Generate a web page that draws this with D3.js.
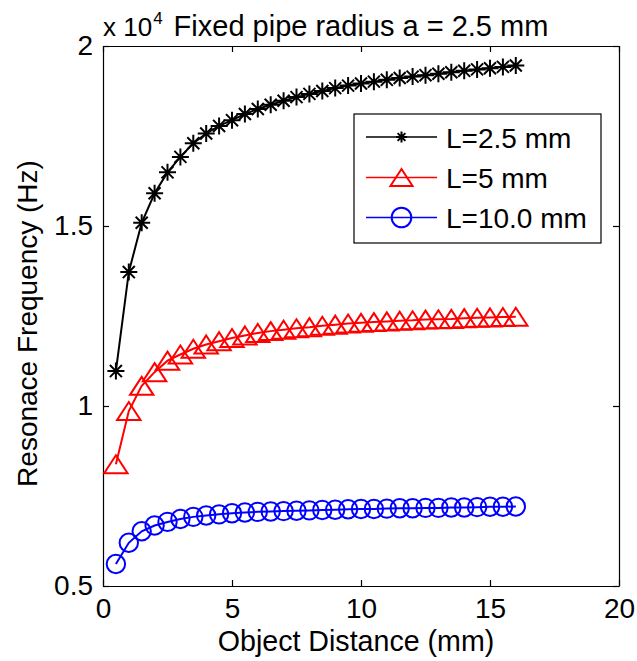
<!DOCTYPE html>
<html>
<head>
<meta charset="utf-8">
<script src="https://cdn.jsdelivr.net/npm/d3@7"></script>
<style>
  html, body { margin: 0; padding: 0; background: #fff; }
  svg { display: block; font-family: "Liberation Sans", Arial, Helvetica, sans-serif; }
</style>
</head>
<body>
<svg id="chart" width="637" height="661"></svg>
<script>
// Object distance in mm
const distance = [0.5, 1, 1.5, 2, 2.5, 3, 3.5, 4, 4.5, 5, 5.5, 6, 6.5, 7, 7.5, 8,
                  8.5, 9, 9.5, 10, 10.5, 11, 11.5, 12, 12.5, 13, 13.5, 14, 14.5, 15, 15.5, 16];

// Resonance frequency in units of 10^4 Hz, one array per pipe length
const freqL2_5 = [1.097, 1.372, 1.509, 1.591, 1.649, 1.692, 1.730, 1.757, 1.778, 1.794, 1.811, 1.825,
                  1.837, 1.848, 1.858, 1.867, 1.875, 1.883, 1.890, 1.896, 1.901, 1.906, 1.911, 1.915,
                  1.919, 1.923, 1.927, 1.931, 1.935, 1.938, 1.942, 1.946];
const freqL5   = [0.838, 0.986, 1.056, 1.094, 1.126, 1.143, 1.159, 1.171, 1.180, 1.189, 1.196, 1.203,
                  1.208, 1.212, 1.216, 1.219, 1.223, 1.226, 1.229, 1.231, 1.233, 1.235, 1.237, 1.238,
                  1.240, 1.241, 1.242, 1.244, 1.245, 1.246, 1.247, 1.248];
const freqL10  = [0.561, 0.620, 0.652, 0.668, 0.678, 0.686, 0.692, 0.696, 0.699, 0.702, 0.704, 0.706,
                  0.707, 0.708, 0.709, 0.710, 0.711, 0.712, 0.713, 0.714, 0.714, 0.715, 0.716, 0.716,
                  0.717, 0.717, 0.718, 0.718, 0.719, 0.720, 0.720, 0.721];

const seriesNames = ["L=2.5 mm", "L=5 mm", "L=10.0 mm"];
const seriesColors = ["#000000", "#ff0000", "#0000ff"];
const seriesMarkers = ["star", "triangle", "circle"];

const xTicks = [0, 5, 10, 15, 20];
const yTicks = [0.5, 1, 1.5, 2];

const titleText = "Fixed pipe radius a = 2.5 mm";
const xLabel = "Object Distance (mm)";
const yLabel = "Resonace Frequency (Hz)";

const series = [freqL2_5, freqL5, freqL10].map((vals, i) => ({
  name: seriesNames[i], color: seriesColors[i], marker: seriesMarkers[i],
  points: distance.map((d, j) => [d, vals[j]])
}));

const svg = d3.select("#chart");
const box = { left: 103, right: 619, top: 46, bottom: 586 };
const fontSize = 28;

const x = d3.scaleLinear().domain([0, 20]).range([box.left, box.right]);
const y = d3.scaleLinear().domain([0.5, 2]).range([box.bottom, box.top]);

// Marker shapes
function markerPath(type, s) {
  if (type === "star") {
    const d = s * 0.7071;
    return `M${-s},0L${s},0M0,${-s}L0,${s}M${-d},${-d}L${d},${d}M${-d},${d}L${d},${-d}`;
  }
  if (type === "triangle") {
    const w = s * 1.3, h = s;
    return `M0,${-h}L${w},${h}L${-w},${h}Z`;
  }
  return null;
}
function drawMarker(g, type, color, cx, cy, size) {
  if (type === "circle") {
    g.append("circle").attr("cx", cx).attr("cy", cy).attr("r", size)
      .attr("fill", "none").attr("stroke", color).attr("stroke-width", 2);
  } else {
    g.append("path").attr("d", markerPath(type, size))
      .attr("transform", `translate(${cx},${cy})`)
      .attr("fill", "none").attr("stroke", color).attr("stroke-width", 2)
      .attr("stroke-linejoin", "miter");
  }
}
const plotMarkerSize = { star: 8.5, triangle: 9, circle: 9.2 };
const legendMarkerSize = { star: 5.5, triangle: 8.5, circle: 9.8 };

// Axes (ticks point inward, labels only on bottom and left)
const tickLen = 6;
const axisStyle = g => {
  g.selectAll("path.domain").attr("stroke", "#000").attr("stroke-width", 1.2);
  g.selectAll(".tick line").attr("stroke", "#000").attr("stroke-width", 1.2);
  g.selectAll("text").attr("font-size", fontSize).attr("fill", "#000")
    .attr("font-family", "Liberation Sans, Arial, sans-serif");
};
svg.append("g").attr("transform", `translate(0,${box.bottom})`)
  .call(d3.axisBottom(x).tickValues(xTicks).tickFormat(d3.format("d")).tickSize(-tickLen).tickSizeOuter(0).tickPadding(12))
  .call(axisStyle);
svg.append("g").attr("transform", `translate(${box.left},0)`)
  .call(d3.axisLeft(y).tickValues(yTicks).tickFormat(d => String(d)).tickSize(-tickLen).tickSizeOuter(0).tickPadding(10))
  .call(axisStyle);
svg.append("g").attr("transform", `translate(0,${box.top})`)
  .call(d3.axisTop(x).tickValues(xTicks).tickFormat("").tickSize(-tickLen).tickSizeOuter(0))
  .call(axisStyle);
svg.append("g").attr("transform", `translate(${box.right},0)`)
  .call(d3.axisRight(y).tickValues(yTicks).tickFormat("").tickSize(-tickLen).tickSizeOuter(0))
  .call(axisStyle);

// Data lines and markers
const line = d3.line().x(d => x(d[0])).y(d => y(d[1]));
series.forEach(s => {
  const g = svg.append("g");
  g.append("path").datum(s.points).attr("d", line)
    .attr("fill", "none").attr("stroke", s.color).attr("stroke-width", 2);
  s.points.forEach(p => drawMarker(g, s.marker, s.color, x(p[0]), y(p[1]), plotMarkerSize[s.marker]));
});

// Legend
const leg = { x0: 354, y0: 114, x1: 601, y1: 243 };
svg.append("rect").attr("x", leg.x0).attr("y", leg.y0)
  .attr("width", leg.x1 - leg.x0).attr("height", leg.y1 - leg.y0)
  .attr("fill", "#fff").attr("stroke", "#000").attr("stroke-width", 1.2);
const rowY = [137, 177.5, 217.5];
series.forEach((s, i) => {
  const g = svg.append("g");
  g.append("line").attr("x1", 366).attr("x2", 437).attr("y1", rowY[i]).attr("y2", rowY[i])
    .attr("stroke", s.color).attr("stroke-width", 1.5);
  drawMarker(g, s.marker, s.color, 401.5, rowY[i], legendMarkerSize[s.marker]);
  g.append("text").attr("x", 446).attr("y", rowY[i] + 10.5)
    .attr("font-size", fontSize).attr("fill", "#000").text(s.name);
});

// Axis labels
svg.append("text").attr("x", 356).attr("y", 651)
  .attr("text-anchor", "middle").attr("font-size", 28.6).text(xLabel);
svg.append("text").attr("transform", `translate(37,323.5) rotate(-90)`)
  .attr("text-anchor", "middle").attr("font-size", fontSize).text(yLabel);

// Exponent multiplier and title
const expo = svg.append("text").attr("x", box.left).attr("y", 36).attr("font-size", 26);
expo.append("tspan").text("x 10");
expo.append("tspan").attr("dy", -12).attr("dx", 1).attr("font-size", 17).text("4");
svg.append("text").attr("x", (box.left + box.right) / 2).attr("y", 36)
  .attr("text-anchor", "middle").attr("font-size", 29).text(titleText);
</script>
</body>
</html>
